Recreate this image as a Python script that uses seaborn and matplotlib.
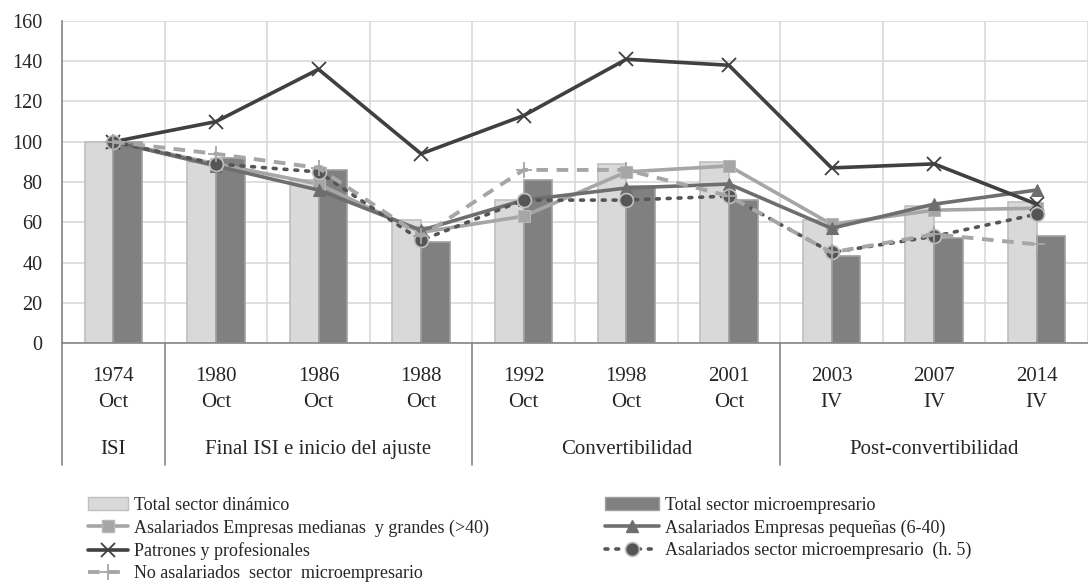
import numpy as np
import pandas as pd
import matplotlib
matplotlib.use("Agg")
import matplotlib.pyplot as plt
import matplotlib.transforms as mtransforms
from matplotlib.lines import Line2D
from matplotlib.patches import Patch
import seaborn as sns

# Data (index 1974 Oct = 100)
anios = ["1974", "1980", "1986", "1988", "1992", "1998", "2001", "2003", "2007", "2014"]
trimestres = ["Oct", "Oct", "Oct", "Oct", "Oct", "Oct", "Oct", "IV", "IV", "IV"]
etapas = ["ISI", "Final ISI e inicio del ajuste", "Final ISI e inicio del ajuste",
          "Final ISI e inicio del ajuste", "Convertibilidad", "Convertibilidad",
          "Convertibilidad", "Post-convertibilidad", "Post-convertibilidad",
          "Post-convertibilidad"]

total_dinamico = [100, 90, 81, 61, 71, 89, 90, 61, 68, 70]
total_micro = [100, 92, 86, 50, 81, 78, 71, 43, 52, 53]
medianas_grandes = [100, 89, 79, 55, 63, 85, 88, 59, 66, 67]
pequenas = [100, 88, 76, 56, 71, 77, 79, 57, 69, 76]
patrones = [100, 110, 136, 94, 113, 141, 138, 87, 89, 69]
asal_micro = [100, 89, 85, 51, 71, 71, 73, 45, 53, 64]
no_asal_micro = [100, 94, 87, 53, 86, 86, 73, 45, 54, 49]

sns.set_style("white")
plt.rcParams["font.family"] = ["Liberation Serif", "DejaVu Serif"]

periodos = [a + "\n" + t for a, t in zip(anios, trimestres)]
pos = np.arange(len(periodos))

bars = pd.DataFrame({
    "periodo": periodos * 2,
    "serie": ["Total sector dinámico"] * len(periodos) + ["Total sector microempresario"] * len(periodos),
    "valor": total_dinamico + total_micro,
})

fig = plt.figure(figsize=(10.88, 5.83), dpi=100)
ax = fig.add_axes([62 / 1088, 240 / 583, 1026 / 1088, 322 / 583])

sns.barplot(data=bars, x="periodo", y="valor", hue="serie", order=periodos,
            palette=["#d9d9d9", "#808080"], width=0.56, linewidth=1.2,
            legend=False, ax=ax)
for cont, ec in zip(ax.containers, ["#bfbfbf", "#a0a0a0"]):
    for p in cont:
        p.set_edgecolor(ec)

# line series
lineas = [
    ("Asalariados Empresas medianas  y grandes (>40)", medianas_grandes,
     dict(color="#a6a6a6", linestyle="-", linewidth=2.6, marker="s", markersize=8,
          mfc="#a6a6a6", mec="#b8b8b8")),
    ("Asalariados Empresas pequeñas (6-40)", pequenas,
     dict(color="#6e6e6e", linestyle="-", linewidth=2.6, marker="^", markersize=9,
          mfc="#6e6e6e", mec="#6e6e6e")),
    ("Patrones y profesionales", patrones,
     dict(color="#404040", linestyle="-", linewidth=2.6, marker="x", markersize=10,
          mew=1.3, mec="#404040")),
    ("Asalariados sector microempresario  (h. 5)", asal_micro,
     dict(color="#555555", linestyle=(0, (0.8, 2.2)), linewidth=2.6, marker="o",
          markersize=10, mfc="#555555", mec="#c0c0c0", mew=1.2,
          dash_capstyle="round")),
    ("No asalariados  sector  microempresario", no_asal_micro,
     dict(color="#a6a6a6", linestyle=(0, (3, 2.2)), linewidth=2.8, marker="+",
          markersize=12, mew=1.3, mec="#a6a6a6")),
]
for nombre, vals, estilo in lineas:
    sns.lineplot(x=pos, y=vals, ax=ax, **estilo)

# axes styling
ax.set_ylim(0, 160)
ax.set_xlim(-0.5, 9.4)
ax.set_yticks(range(0, 161, 20))
ax.set_xticks(pos)
ax.set_xticklabels(periodos, linespacing=1.5)
ax.set_xticks(np.arange(-0.5, len(periodos), 1.0), minor=True)
ax.set_xlabel("")
ax.set_ylabel("")
ax.set_axisbelow(True)
ax.yaxis.grid(True, color="#d9d9d9", linewidth=1.2)
ax.xaxis.grid(True, which="minor", color="#d9d9d9", linewidth=1.2)
ax.xaxis.grid(False, which="major")
for s in ["top", "right"]:
    ax.spines[s].set_visible(False)
for s in ["left", "bottom"]:
    ax.spines[s].set_color("#868686")
    ax.spines[s].set_linewidth(1.2)

ax.tick_params(axis="y", which="major", length=4, width=1.2, color="#868686",
               pad=10, labelsize=14.5)
ax.tick_params(axis="x", which="major", length=0, pad=17, labelsize=15)
ax.tick_params(axis="x", which="minor", length=54, width=1.2, color="#868686")

# group (etapa) labels and separators below the axis
trans = mtransforms.blended_transform_factory(ax.transData, ax.transAxes)
vistos = []
for e in etapas:
    if e not in vistos:
        vistos.append(e)
for e in vistos:
    idx = [i for i, x in enumerate(etapas) if x == e]
    centro = (idx[0] + idx[-1]) / 2
    ax.text(centro, -0.332, e, transform=trans, ha="center", va="center", fontsize=15)
    ax.axvline(idx[0] - 0.5, ymin=-0.38, ymax=0, color="#868686", linewidth=1.2,
               clip_on=False)

# legend
def handle(estilo):
    return Line2D([0], [0], **estilo)

est = {n: s for n, v, s in lineas}
izq_h = [Patch(fc="#d9d9d9", ec="#bfbfbf"),
         handle(est[lineas[0][0]]), handle(est[lineas[2][0]]), handle(est[lineas[4][0]])]
izq_l = ["Total sector dinámico", lineas[0][0], lineas[2][0], lineas[4][0]]
der_h = [Patch(fc="#808080", ec="#a0a0a0"),
         handle(est[lineas[1][0]]), handle(est[lineas[3][0]])]
der_l = ["Total sector microempresario", lineas[1][0], lineas[3][0]]

leg1 = fig.legend(izq_h, izq_l, loc="upper left", bbox_to_anchor=(88 / 1088, 1 - 497 / 583),
                  frameon=False, fontsize=13, handlelength=2.2, handletextpad=0.35,
                  labelspacing=0.3, borderpad=0, borderaxespad=0)
leg2 = fig.legend(der_h, der_l, loc="upper left", bbox_to_anchor=(605 / 1088, 1 - 497 / 583),
                  frameon=False, fontsize=13, handlelength=3.0, handletextpad=0.35,
                  labelspacing=0.3, borderpad=0, borderaxespad=0)

fig.savefig("out.png", dpi=100)
